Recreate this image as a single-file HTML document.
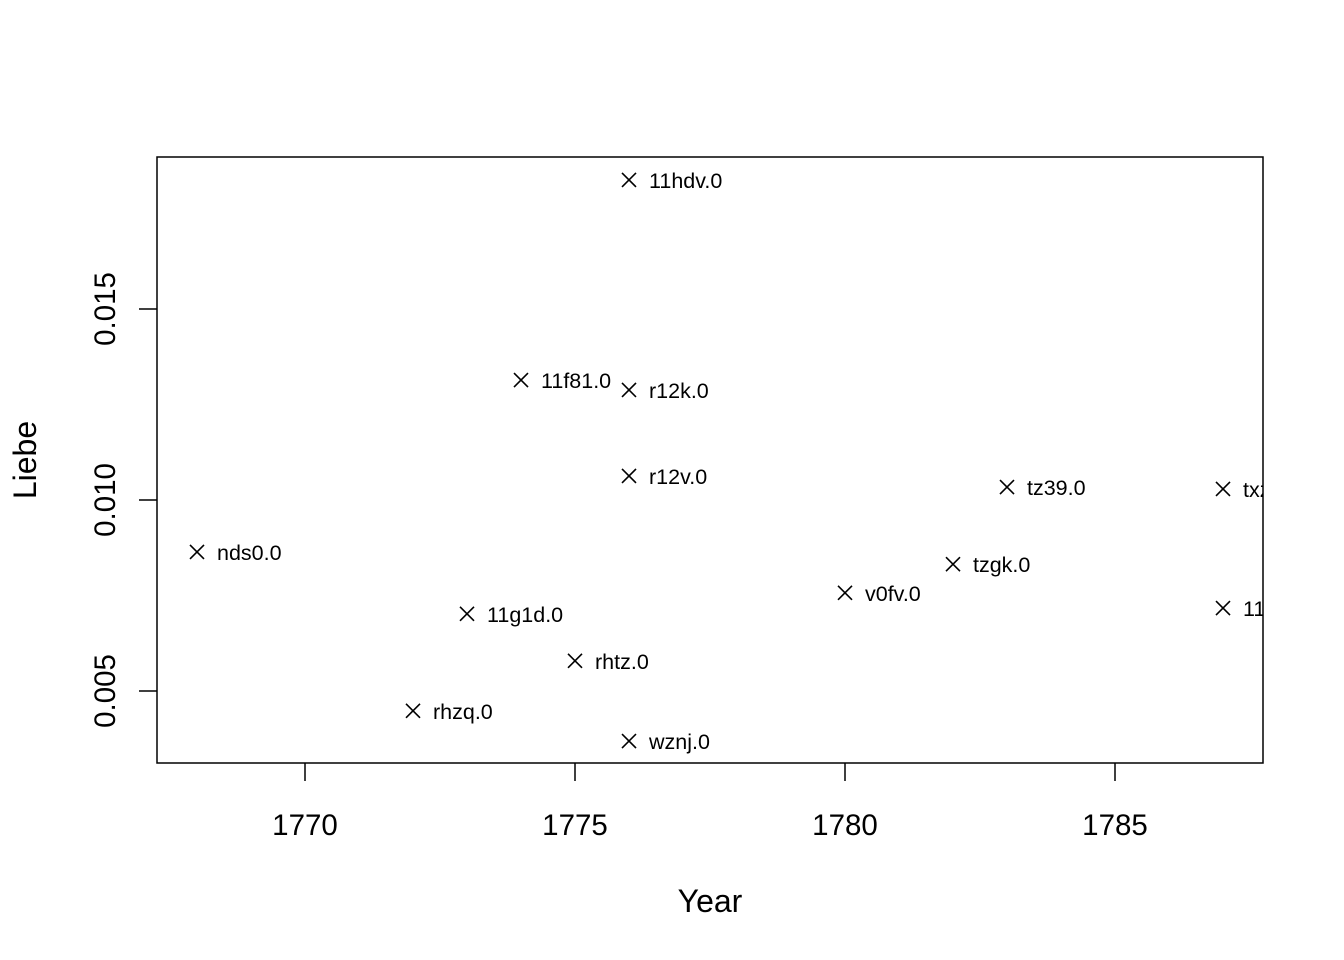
<!DOCTYPE html>
<html><head><meta charset="utf-8"><style>
html,body{margin:0;padding:0;background:#fff;}
svg{display:block;font-family:"Liberation Sans",Arial,sans-serif;}
</style></head><body>
<svg id="chart" width="1344" height="960">
<defs><clipPath id="plotclip"><rect x="157" y="157" width="1106" height="606"/></clipPath></defs>
<rect x="157" y="157" width="1106" height="606" fill="none" stroke="#000" stroke-width="1.5"/>
<g id="xaxis"></g>
<g id="yaxis"></g>
<g id="points" clip-path="url(#plotclip)"></g>
<text x="710" y="912" font-size="32" text-anchor="middle">Year</text>
<text transform="translate(36,460) rotate(-90)" font-size="32" text-anchor="middle">Liebe</text>
</svg>
<script>
const years = [1776,1774,1776,1776,1783,1787,1768,1782,1780,1773,1787,1775,1772,1776];
const values = [0.01838,0.01314,0.01288,0.01063,0.01034,0.01029,0.00864,0.00832,0.00757,0.00702,0.00717,0.00579,0.00448,0.00369];
const labels = ["11hdv.0","11f81.0","r12k.0","r12v.0","tz39.0","txzz.0","nds0.0","tzgk.0","v0fv.0","11g1d.0","11gzz.0","rhtz.0","rhzq.0","wznj.0"];
const xTicks = [1770,1775,1780,1785];
const yTicks = [0.005,0.010,0.015];
const yTickLabels = ["0.005","0.010","0.015"];

const NS="http://www.w3.org/2000/svg";
function xs(v){return 305+(v-1770)*54.0;}
function ys(v){return 500-(v-0.010)*38200;}
function mk(tag,attrs,parent){const e=document.createElementNS(NS,tag);for(const k in attrs)e.setAttribute(k,attrs[k]);parent.appendChild(e);return e;}

const xg=document.getElementById('xaxis');
xTicks.forEach(t=>{
  const l=mk('line',{x1:xs(t),x2:xs(t),y1:763,y2:781,stroke:'#000','stroke-width':1.5},xg);
  
  
  const tx=mk('text',{x:xs(t),y:835,'font-size':29.5,'text-anchor':'middle'},xg);
  tx.textContent=t;
  
  
});
const yg=document.getElementById('yaxis');
yTicks.forEach((t,i)=>{
  const l=mk('line',{x1:139,x2:157,y1:ys(t),y2:ys(t),stroke:'#000','stroke-width':1.5},yg);
  
  
  const tx=mk('text',{transform:`translate(115,${ys(t)}) rotate(-90)`,'font-size':29.5,'text-anchor':'middle'},yg);
  tx.textContent=yTickLabels[i];
  
  
});
const pg=document.getElementById('points');
years.forEach((yr,i)=>{
  const cx=xs(yr),cy=ys(values[i]),s=7;
  const g=mk('g',{},pg);
  
  
  mk('path',{d:`M${cx-s},${cy-s}L${cx+s},${cy+s}M${cx-s},${cy+s}L${cx+s},${cy-s}`,stroke:'#000','stroke-width':1.6,fill:'none'},g);
  const tx=mk('text',{x:cx+20,y:cy+8,'font-size':21.5},g);
  tx.textContent=labels[i];
  
  
});
</script>
</body></html>
